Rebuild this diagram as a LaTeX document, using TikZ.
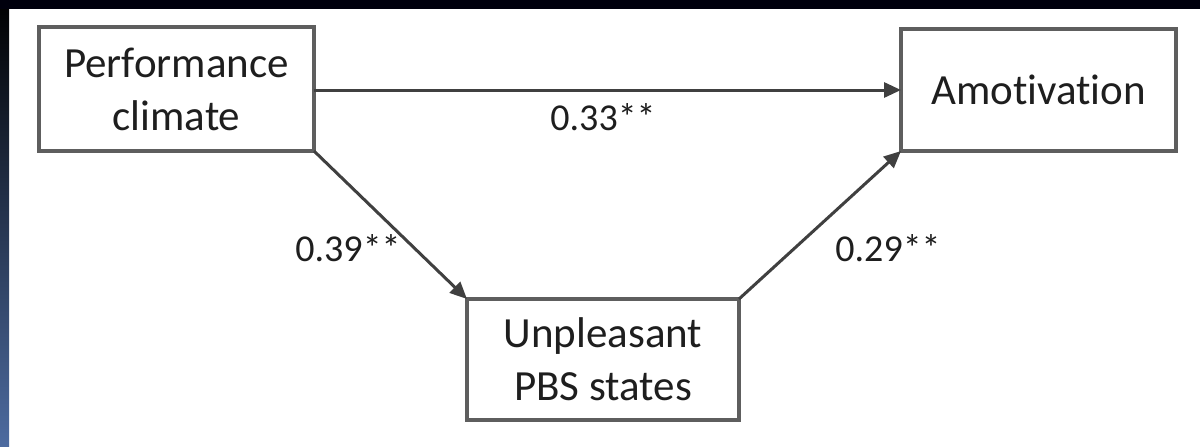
\documentclass[tikz,border=0pt]{standalone}
\usepackage{fontspec}
\setmainfont[Ligatures={NoCommon},RawFeature={-liga;-clig;-dlig}]{Carlito}
\usetikzlibrary{arrows.meta}
\definecolor{boxline}{HTML}{5E5E5E}
\definecolor{arrline}{HTML}{404040}
\definecolor{txt}{HTML}{1E1E1E}
\definecolor{frameblue}{HTML}{4D6BA0}
\tikzset{
  varbox/.style={draw=boxline, line width=4pt, fill=white, align=center,
    text=txt, inner sep=0pt, outer sep=0pt,
    font=\fontsize{43}{53}\selectfont},
  patharrow/.style={draw=arrline, line width=3pt,
    -{Triangle[length=17pt,width=15pt]}},
  coef/.style={text=txt, inner sep=0pt, font=\fontsize{38}{46}\selectfont}
}
\begin{document}
\begin{tikzpicture}[x=1pt,y=-1pt]
  \useasboundingbox (0,0) rectangle (1200,447);
  \fill[white] (0,0) rectangle (1200,447);
  \shade[top color=black, bottom color=frameblue] (0,0) rectangle (9,447);
  \fill[black!95!blue] (0,0) rectangle (1200,9);

  \node[varbox, minimum width=275pt, minimum height=124pt] (pc) at (176.5,89) {Performance\\climate};
  \node[varbox, minimum width=275pt, minimum height=122pt] (am) at (1038.5,90) {Amotivation};
  \node[varbox, minimum width=272pt, minimum height=121pt] (pbs) at (603,359.5) {Unpleasant\\PBS states};

  \coordinate (pcr) at ([yshift=-1pt]pc.east);
  \draw[patharrow] (pcr) -- (pcr -| am.west);
  \draw[patharrow] (pc.south east) -- (pbs.north west);
  \draw[patharrow] (pbs.north east) -- (am.south west);

  \node[coef] (c1) at (603,117) {0.33**};
  \node[coef] (c2) at (348,248) {0.39**};
  \node[coef] (c3) at (888,248) {0.29**};
\end{tikzpicture}
\end{document}
